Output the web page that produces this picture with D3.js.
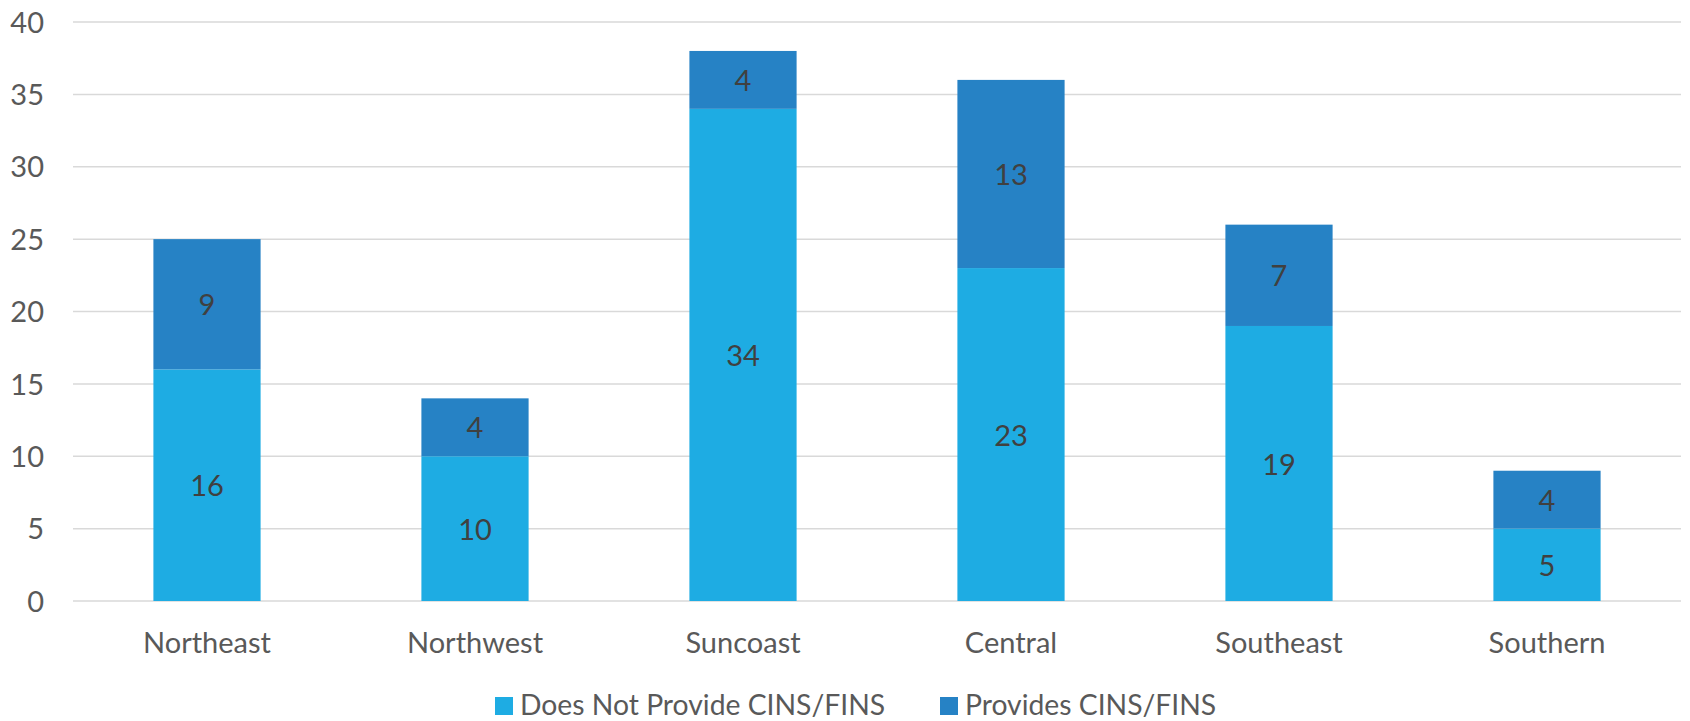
<!DOCTYPE html>
<html><head><meta charset="utf-8">
<script src="https://cdn.jsdelivr.net/npm/d3@7"></script>
<style>body{margin:0;background:#fff;}svg{display:block;}</style>
</head><body>
<svg id="chart" width="1690" height="721"></svg>
<script>
const categories = ["Northeast","Northwest","Suncoast","Central","Southeast","Southern"];
const seriesNames = ["Does Not Provide CINS/FINS","Provides CINS/FINS"];
const notProvide = [16,10,34,23,19,5];
const provides = [9,4,4,13,7,4];
const yTicks = [0,5,10,15,20,25,30,35,40];
const colors = ["#1EACE3","#2682C5"];

const svg = d3.select("#chart");
const font = "Lato, 'Open Sans', sans-serif";
const mLeft = 73, mRight = 1681, mTop = 22, mBottom = 601;

const x = d3.scaleBand().domain(categories).range([mLeft, mRight]).paddingInner(0.6).paddingOuter(0.3);
const y = d3.scaleLinear().domain([0, 40]).range([mBottom, mTop]);

// gridlines
svg.append("g").selectAll("line").data(yTicks).join("line")
  .attr("x1", mLeft).attr("x2", mRight)
  .attr("y1", d => y(d)).attr("y2", d => y(d))
  .attr("stroke", "#d9d9d9").attr("stroke-width", 1.5);

// y axis labels
const yAxis = d3.axisLeft(y).tickValues(yTicks).tickSize(0).tickPadding(0);
const ya = svg.append("g").attr("transform", `translate(44,0)`).call(yAxis);
ya.select(".domain").remove();
ya.selectAll("text").attr("font-family", font).attr("font-size", 29).attr("fill", "#595959").attr("dy", "0.35em");

// x axis labels
const xAxis = d3.axisBottom(x).tickSize(0).tickPadding(0);
const xa = svg.append("g").attr("transform", `translate(0,${mBottom})`).call(xAxis);
xa.select(".domain").remove();
xa.selectAll("text").attr("font-family", font).attr("font-size", 29).attr("fill", "#595959").attr("dy", null).attr("y", 52);

const stackData = categories.map((c, i) => ({cat: c, a: notProvide[i], b: provides[i]}));
const stack = d3.stack().keys(["a","b"])(stackData);

stack.forEach((layer, li) => {
  const g = svg.append("g");
  g.selectAll("rect").data(layer).join("rect")
    .attr("x", d => x(d.data.cat))
    .attr("width", x.bandwidth())
    .attr("y", d => y(d[1]))
    .attr("height", d => y(d[0]) - y(d[1]))
    .attr("fill", colors[li]);
  g.selectAll("text").data(layer).join("text")
    .attr("x", d => x(d.data.cat) + x.bandwidth()/2)
    .attr("y", d => (y(d[0]) + y(d[1]))/2)
    .attr("dy", "0.38em")
    .attr("text-anchor", "middle")
    .attr("font-family", font).attr("font-size", 29).attr("fill", "#404040")
    .text(d => d[1] - d[0]);
});

// legend
const legendX = [495, 940];
const lg = svg.append("g");
seriesNames.forEach((name, i) => {
  lg.append("rect").attr("x", legendX[i]).attr("y", 697).attr("width", 18).attr("height", 18).attr("fill", colors[i]);
  lg.append("text").attr("x", legendX[i] + 25).attr("y", 715)
    .attr("font-family", font).attr("font-size", 28.3).attr("fill", "#595959").text(name);
});
</script>
</body></html>
